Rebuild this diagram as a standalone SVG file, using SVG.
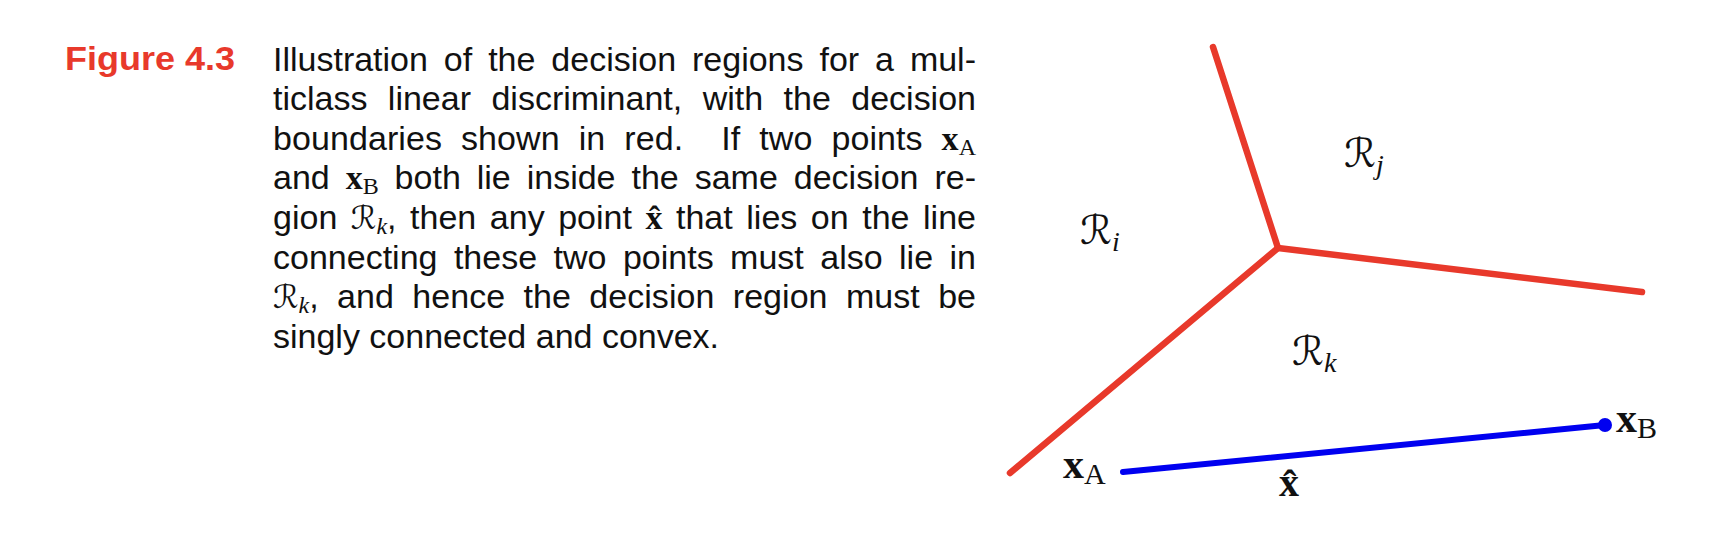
<svg xmlns="http://www.w3.org/2000/svg" width="1724" height="560" viewBox="0 0 1724 560">
<style>
.cap{font-family:"Liberation Sans",Arial,sans-serif;font-size:34px;fill:#111}
.fig{font-family:"Liberation Sans",Arial,sans-serif;font-size:34px;font-weight:bold;fill:#e8392b}
.bx{font-family:"Liberation Serif","DejaVu Serif",serif;font-weight:bold}
.rm{font-family:"Liberation Serif","DejaVu Serif",serif}
.it{font-family:"Liberation Serif","DejaVu Serif",serif;font-style:italic}
.cal{font-family:"DejaVu Serif","DejaVu Sans",serif}
.lbl{fill:#111}
.red{stroke:#e8392b;stroke-width:6.5;stroke-linecap:round;fill:none}
.blue{stroke:#0000f0;stroke-width:6;stroke-linecap:round;fill:none}
</style>
<rect width="1724" height="560" fill="#fff"/>
<g id="caption">
<text class="fig" x="65" y="69.5" textLength="170" lengthAdjust="spacingAndGlyphs">Figure 4.3</text>
<text class="cap" x="273" y="70.5" word-spacing="6.5" textLength="703" lengthAdjust="spacing">Illustration of the decision regions for a mul-</text>
<text class="cap" x="273" y="110" word-spacing="11" textLength="703" lengthAdjust="spacing">ticlass linear discriminant, with the decision</text>
<text class="cap" x="273" y="149.7" word-spacing="9.5" textLength="703" lengthAdjust="spacing">boundaries shown in red.&#160; If two points <tspan class="bx" font-size="34">x</tspan><tspan class="rm" font-size="24" dy="5">A</tspan></text>
<text class="cap" x="273" y="189.3" word-spacing="6.5" textLength="703" lengthAdjust="spacing">and <tspan class="bx" font-size="34">x</tspan><tspan class="rm" font-size="24" dy="5">B</tspan><tspan dy="-5"> both lie inside the same decision re-</tspan></text>
<text class="cap" x="273" y="228.9" word-spacing="4" textLength="703" lengthAdjust="spacing">gion <tspan class="cal" font-size="32">ℛ</tspan><tspan class="it" font-size="24" dy="5">k</tspan><tspan dy="-5">, then any point </tspan><tspan class="bx" font-size="34">x̂</tspan> that lies on the line</text>
<text class="cap" x="273" y="268.5" word-spacing="7" textLength="703" lengthAdjust="spacing">connecting these two points must also lie in</text>
<text class="cap" x="273" y="308" word-spacing="8.9" textLength="703" lengthAdjust="spacing"><tspan class="cal" font-size="32">ℛ</tspan><tspan class="it" font-size="24" dy="5">k</tspan><tspan dy="-5">, and hence the decision region must be</tspan></text>
<text class="cap" x="273" y="347.7">singly connected and convex.</text>
</g>
<g id="connectors">
<polyline class="red" points="1213,47 1278,248 1642,292"/>
<line class="red" x1="1278" y1="248" x2="1010" y2="473"/>
<line class="blue" x1="1123" y1="472" x2="1605" y2="425"/>
<circle cx="1605" cy="425" r="7" fill="#0000f0"/>
</g>
<g id="label-Ri"><text class="lbl" x="1080" y="244"><tspan class="cal" font-size="40">ℛ</tspan><tspan class="it" font-size="28" dy="7">i</tspan></text></g>
<g id="label-Rj"><text class="lbl" x="1344" y="167"><tspan class="cal" font-size="40">ℛ</tspan><tspan class="it" font-size="28" dy="7">j</tspan></text></g>
<g id="label-Rk"><text class="lbl" x="1292" y="365"><tspan class="cal" font-size="40">ℛ</tspan><tspan class="it" font-size="28" dy="7">k</tspan></text></g>
<g id="label-xA"><text class="lbl" x="1063" y="478"><tspan class="bx" font-size="42">x</tspan><tspan class="rm" font-size="30" dy="6">A</tspan></text></g>
<g id="label-xB"><text class="lbl" x="1616" y="432"><tspan class="bx" font-size="42">x</tspan><tspan class="rm" font-size="30" dy="6">B</tspan></text></g>
<g id="label-xhat"><text class="lbl bx" x="1279" y="496" font-size="40">x̂</text></g>
</svg>
